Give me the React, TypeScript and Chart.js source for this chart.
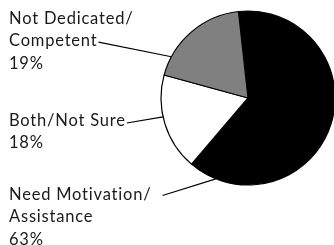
import React, { useEffect, useRef } from "react";
import { Chart, registerables } from "chart.js";

Chart.register(...registerables);

// Data
const categories = ["Need Motivation/ Assistance", "Both/Not Sure", "Not Dedicated/ Competent"];
const labelLines = [
  ["Need Motivation/", "Assistance"],
  ["Both/Not Sure"],
  ["Not Dedicated/", "Competent"],
];
const values = [63, 18, 19];
const percentLabels = ["63%", "18%", "19%"];
const sliceColors = ["#000000", "#ffffff", "#808080"];

// Layout for callouts (positions, not data)
const labelLayout = [
  { x: 9, baseline: 199.5, leaderLine: 0, lineGap: 11, lineDy: -4, edgeAngleDeg: 111.7 },
  { x: 9, baseline: 125.5, leaderLine: 0, lineGap: 1, lineDy: -2.5, edgeAngleDeg: 167.5 },
  { x: 9, baseline: 23.5, leaderLine: 1, lineGap: 1, lineDy: -4, edgeAngleDeg: 208.3 },
];
const LINE_HEIGHT = 22.6;
const FONT = "16.5px Lato";
const LETTER_SPACING = "0.8px";

const calloutPlugin = {
  id: "callouts",
  afterDraw(chart: any) {
    const ctx = chart.ctx as any;
    const meta = chart.getDatasetMeta(0);
    const arc0 = meta.data[0] as any;
    const cx = arc0.x;
    const cy = arc0.y;
    const r = arc0.outerRadius;
    ctx.save();
    ctx.font = FONT;
    if ("letterSpacing" in ctx) ctx.letterSpacing = LETTER_SPACING;
    ctx.fillStyle = "#1a1a1a";
    ctx.textBaseline = "alphabetic";
    ctx.textAlign = "left";
    labelLines.forEach((lines, i) => {
      const lay = labelLayout[i];
      const all = [...lines, percentLabels[i]];
      all.forEach((t, j) => {
        ctx.fillText(t, lay.x, lay.baseline + j * LINE_HEIGHT);
      });
      const li = lay.leaderLine;
      const w = ctx.measureText(lines[li]).width;
      const sx = lay.x + w + lay.lineGap;
      const sy = lay.baseline + li * LINE_HEIGHT + lay.lineDy;
      const a = (lay.edgeAngleDeg * Math.PI) / 180;
      const ex = cx + r * Math.cos(a);
      const ey = cy + r * Math.sin(a);
      ctx.beginPath();
      ctx.strokeStyle = "#000";
      ctx.lineWidth = 1.2;
      ctx.moveTo(sx, sy);
      ctx.lineTo(ex, ey);
      ctx.stroke();
    });
    ctx.restore();
  },
};

export default function App() {
  const ref = useRef<HTMLCanvasElement>(null);
  useEffect(() => {
    if (!ref.current) return;
    const chart = new Chart(ref.current, {
      type: "pie",
      data: {
        labels: categories,
        datasets: [
          {
            data: values,
            backgroundColor: sliceColors,
            borderColor: "#000000",
            borderWidth: 1.2,
          },
        ],
      },
      options: {
        animation: false,
        responsive: false,
        rotation: -6.3,
        radius: 87,
        layout: { padding: { left: 162, right: 0, top: 0, bottom: 49 } },
        plugins: {
          legend: { display: false },
          tooltip: { enabled: false },
        },
      },
      plugins: [calloutPlugin],
    });
    return () => chart.destroy();
  }, []);
  return (
    <div style={{ position: "absolute", left: 0, top: 0, width: 334, height: 245, overflow: "hidden", background: "#fff" }}>
      <canvas ref={ref} width={334} height={245} style={{ width: 334, height: 245, display: "block" }} />
    </div>
  );
}
